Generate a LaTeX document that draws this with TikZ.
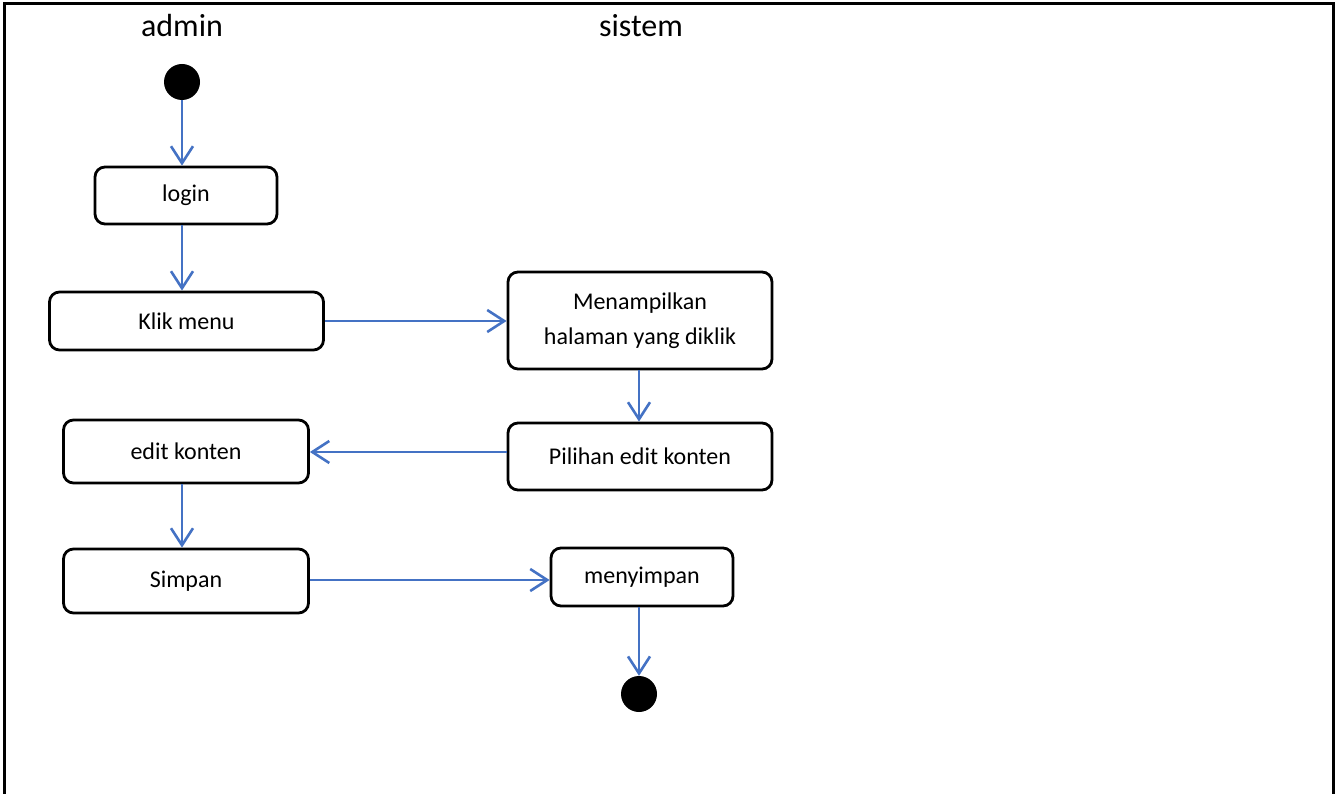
\documentclass[tikz,border=0pt]{standalone}
\usepackage{fontspec}
\setmainfont{Carlito}
\usetikzlibrary{arrows.meta}
\definecolor{arrowblue}{HTML}{4472C4}
\tikzset{
  act/.style={draw=black, line width=2.8pt, rounded corners=10pt, fill=white,
    inner sep=0pt, align=center, font=\fontsize{24}{35}\selectfont},
  flow/.style={draw=arrowblue, line width=2.6pt,
    -{Straight Barb[length=17pt,width=22pt]}},
  dot/.style={circle, fill=black, minimum size=36pt, inner sep=0pt},
  lane/.style={font=\fontsize{32}{36}\selectfont}
}
\begin{document}
\begin{tikzpicture}[x=1pt,y=-1pt]
\useasboundingbox (0,0) rectangle (1335,794);
\draw[line width=3pt] (4,800) -- (4,4) -- (1333,4) -- (1333,800);
\node[lane] (admin) at (182,26) {admin};
\node[lane] (sistem) at (641,26) {sistem};
\node[dot] (start) at (182,82) {};
\node[act, minimum width=182pt, minimum height=57pt] (login) at (186,195.5) {login};
\node[act, minimum width=274pt, minimum height=58pt] (klik) at (186.5,321) {Klik menu};
\node[act, minimum width=264pt, minimum height=97pt] (tampil) at (640,320.5) {Menampilkan\\halaman yang diklik};
\node[act, minimum width=264pt, minimum height=67pt] (pilih) at (640,456.5) {Pilihan edit konten};
\node[act, minimum width=245pt, minimum height=63pt] (edit) at (186,451.5) {edit konten};
\node[act, minimum width=245pt, minimum height=64pt] (simpan) at (186,581) {Simpan};
\node[act, minimum width=182pt, minimum height=58pt] (menyimpan) at (642,577) {menyimpan};
\node[dot] (end) at (639,694) {};
\draw[flow] (start.south) -- (start.south |- login.north);
\draw[flow] (login.south -| start) -- (klik.north -| start);
\draw[flow] (klik.east |- 0,321) -- (tampil.west |- 0,321);
\draw[flow] (tampil.south -| end) -- (pilih.north -| end);
\draw[flow] (pilih.west |- 0,452) -- (edit.east |- 0,452);
\draw[flow] (edit.south -| start) -- (simpan.north -| start);
\draw[flow] (simpan.east |- 0,580) -- (menyimpan.west |- 0,580);
\draw[flow] (menyimpan.south -| end) -- (end.north);
\end{tikzpicture}
\end{document}
